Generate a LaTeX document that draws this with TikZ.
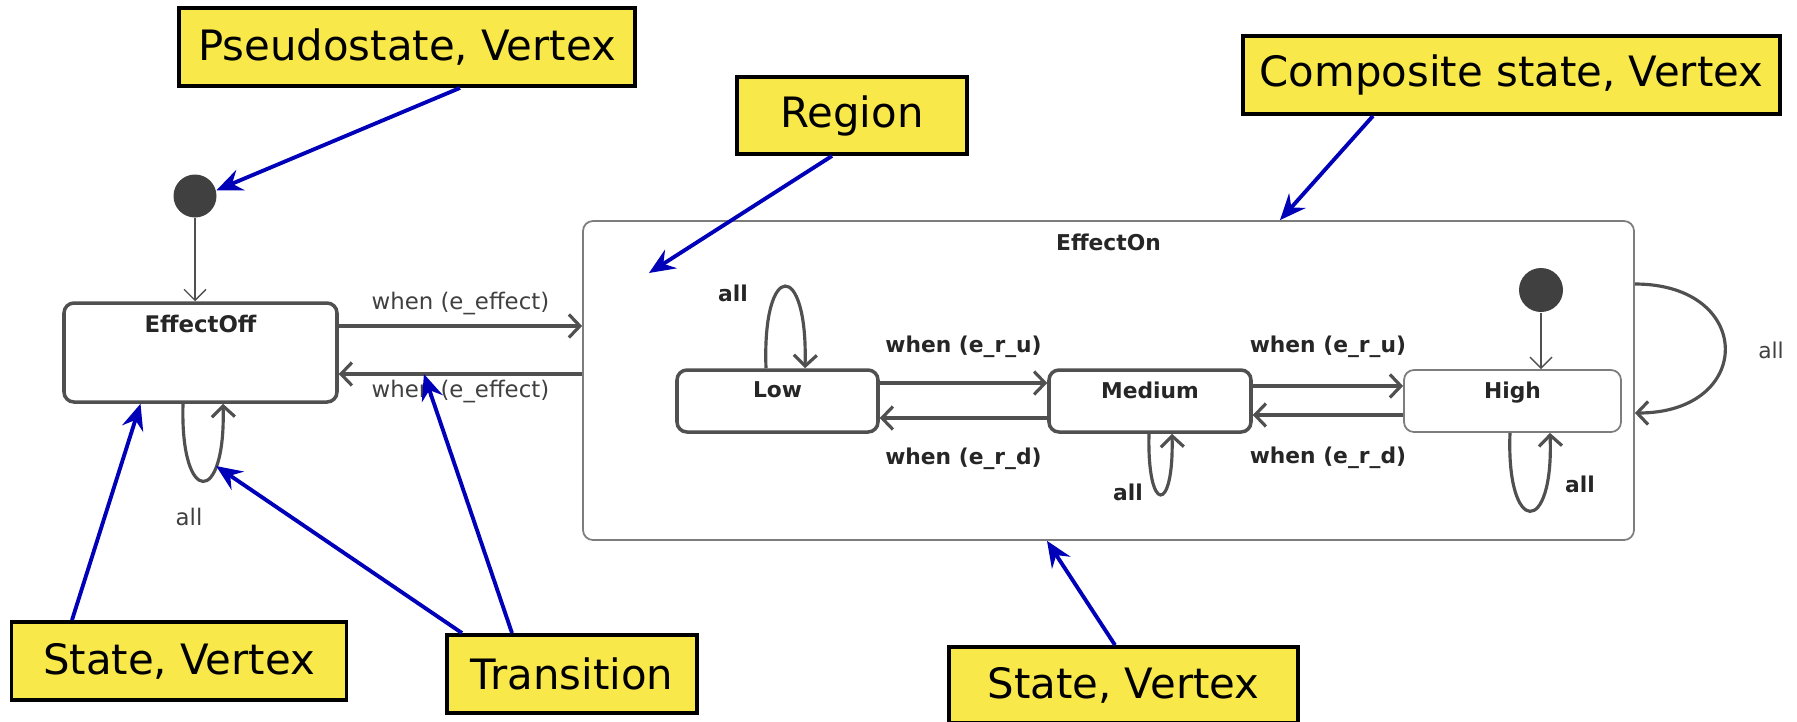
\documentclass[tikz,border=0pt]{standalone}
\usepackage{fontspec}
\setmainfont{DejaVu Sans}
\usetikzlibrary{arrows.meta,positioning,calc}

\definecolor{tagyellow}{RGB}{248,232,74}
\definecolor{pointblue}{RGB}{0,0,185}
\definecolor{stategray}{RGB}{80,80,80}
\definecolor{framegray}{RGB}{125,125,125}
\definecolor{dotgray}{RGB}{64,64,64}

\tikzset{
  tag/.style={draw=black, line width=1.1pt, fill=tagyellow, inner sep=0pt,
    font=\fontsize{11.9}{14}\selectfont},
  pointer/.style={pointblue, line width=1.1pt,
    -{Stealth[length=2.6mm,width=2.2mm,inset=0.9mm]}},
  state/.style={draw=stategray, line width=1pt, rounded corners=1mm, fill=white},
  statename/.style={inner sep=0pt, text=black!85,
    font=\bfseries\fontsize{6.2}{7}\selectfont},
  trans/.style={stategray, line width=0.9pt,
    -{Straight Barb[length=1.1mm,width=2.3mm]}},
  init/.style={stategray, line width=0.4pt,
    -{Straight Barb[length=1.1mm,width=2.2mm]}},
  dot/.style={circle, fill=dotgray, minimum size=4.3mm, inner sep=0pt},
  guard/.style={inner sep=0pt, text=black!85,
    font=\bfseries\fontsize{6.2}{7}\selectfont},
  plainguard/.style={inner sep=0pt, text=black!75,
    font=\fontsize{6.5}{7.5}\selectfont},
}

\begin{document}
\begin{tikzpicture}
\path[fill=white, use as bounding box] (0,0) rectangle (17.97,-7.21);

% states
\node[state, draw=framegray, line width=0.5pt, minimum width=10.51cm, minimum height=3.19cm] (on) at (11.085,-3.805) {};
\node[statename, below=1.35mm of on.north] (onname) {EffectOn};

\node[state, minimum width=2.73cm, minimum height=0.99cm] (off) at (2.005,-3.525) {};
\node[statename, font=\bfseries\fontsize{6.5}{7.5}\selectfont, below=1.35mm of off.north] (offname) {EffectOff};

\node[state, minimum width=2.01cm, minimum height=0.62cm] (low) at (7.775,-4.01) {};
\node[statename, below=1.3mm of low.north] (lowname) {Low};
\node[state, minimum width=2.02cm, minimum height=0.62cm] (med) at (11.50,-4.01) {};
\node[statename, below=1.3mm of med.north] (medname) {Medium};
\node[state, draw=framegray, line width=0.5pt, minimum width=2.17cm, minimum height=0.62cm] (high) at (15.125,-4.01) {};
\node[statename, below=1.2mm of high.north] (highname) {High};

% initial pseudostates
\node[dot] (i0) at (1.95,-1.96) {};
\node[dot, minimum size=4.4mm] (i1) at (15.41,-2.90) {};
\draw[init] (i0) -- (i0 |- off.north);
\draw[init] (i1) -- (i1 |- high.north);

% transitions
\draw[trans] (off.east |- 0,-3.26) -- node[plainguard, above=1mm] (g1) {when (e\_effect)} (on.west |- 0,-3.26);
\draw[trans] (on.west |- 0,-3.74) -- node[plainguard, below=0.5mm] (g2) {when (e\_effect)} coordinate[pos=0.65] (backmark) (off.east |- 0,-3.74);

\draw[trans] (low.east |- 0,-3.83) -- node[guard, above=2.35mm] (g3) {when (e\_r\_u)} (med.west |- 0,-3.83);
\draw[trans] (med.west |- 0,-4.18) -- node[guard, below=2.8mm] (g4) {when (e\_r\_d)} (low.east |- 0,-4.18);
\draw[trans] (med.east |- 0,-3.86) -- node[guard, above=2.7mm] (g5) {when (e\_r\_u)} (high.west |- 0,-3.86);
\draw[trans] (high.west |- 0,-4.15) -- node[guard, below=3mm] (g6) {when (e\_r\_d)} (med.east |- 0,-4.15);

% self loops
\draw[trans] ($(off.south)+(-0.175,0)$) .. controls +(-0.03,-1.03) and +(0.03,-1.03) .. ($(off.south)+(0.225,0)$) coordinate[pos=0.72] (offloop);
\node[plainguard] (offall) at (1.89,-5.17) {all};

\draw[trans] ($(low.north)+(-0.115,0)$) .. controls +(-0.04,1.09) and +(0.03,1.09) .. ($(low.north)+(0.275,0)$);
\node[guard] (lowall) at (7.33,-2.93) {all};

\draw[trans] ($(med.south)+(-0.01,0)$) .. controls +(-0.02,-0.81) and +(0.02,-0.81) .. ($(med.south)+(0.22,0)$);
\node[guard] (medall) at (11.28,-4.92) {all};

\draw[trans] ($(high.south)+(-0.025,0)$) .. controls +(-0.04,-1.04) and +(0.04,-1.04) .. ($(high.south)+(0.375,0)$);
\node[guard] (highall) at (15.80,-4.84) {all};

\draw[trans] ($(on.east)+(0,0.965)$) .. controls +(1.2,0) and +(1.2,0) .. ($(on.east)+(0,-0.325)$);
\node[plainguard, font=\fontsize{6.2}{7}\selectfont] (onall) at (17.71,-3.50) {all};

% notes
\node[tag, minimum width=4.56cm, minimum height=0.78cm] (pseudotag) at (4.07,-0.47) {Pseudostate, Vertex};
\node[tag, minimum width=2.30cm, minimum height=0.77cm] (regiontag) at (8.52,-1.155) {Region};
\node[tag, minimum width=5.37cm, minimum height=0.78cm] (comptag) at (15.115,-0.75) {Composite state, Vertex};
\node[tag, minimum width=3.35cm, minimum height=0.78cm] (statetagL) at (1.79,-6.61) {State, Vertex};
\node[tag, minimum width=2.50cm, minimum height=0.78cm] (transtag) at (5.72,-6.74) {Transition};
\node[tag, minimum width=3.49cm, minimum height=0.76cm] (statetagB) at (11.235,-6.85) {State, Vertex};

\coordinate (regiontip) at (6.49,-2.73);
\draw[pointer] ([xshift=5.3mm]pseudotag.south) -- (i0.15);
\draw[pointer] ([xshift=-2mm]regiontag.south) -- (regiontip);
\draw[pointer] ([xshift=-13.85mm]comptag.south) -- ([xshift=17.15mm]on.north);
\draw[pointer] ([xshift=-10.7mm]statetagL.north) -- ([xshift=-6mm]off.south);
\draw[pointer] ([xshift=-11mm]transtag.north) -- (offloop);
\draw[pointer] ([xshift=-6mm]transtag.north) -- (backmark);
\draw[pointer] ([xshift=-0.85mm]statetagB.north) -- ([xshift=-6.15mm]on.south);
\end{tikzpicture}
\end{document}
